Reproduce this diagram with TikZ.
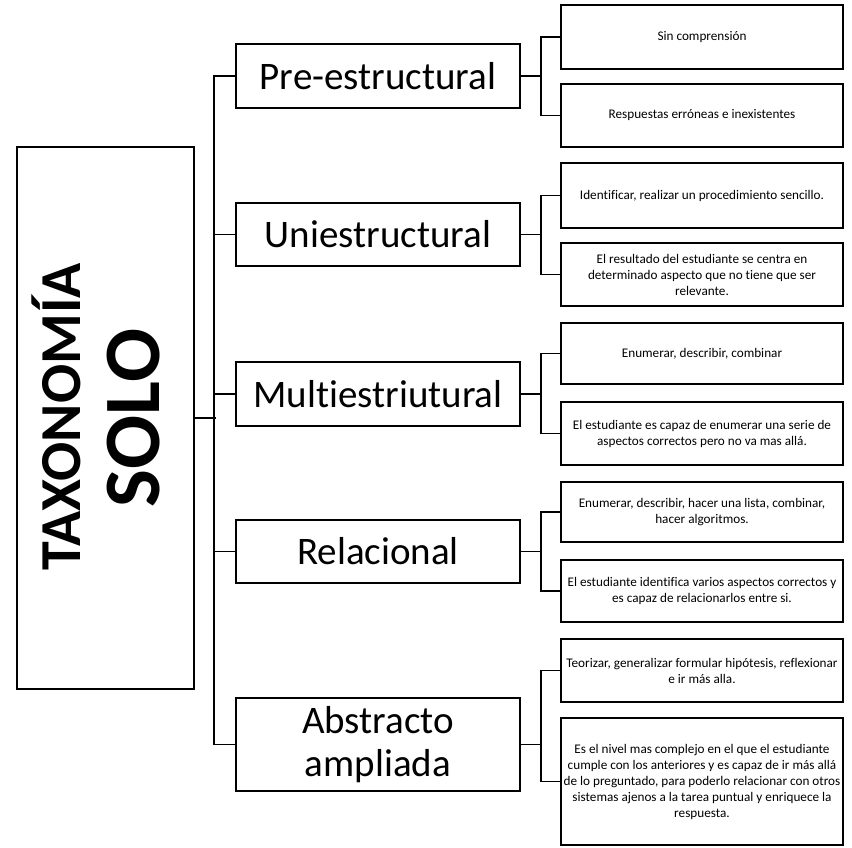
\documentclass[tikz,border=0pt]{standalone}
\usepackage{fontspec}
\setmainfont[Ligatures=CommonOff]{Carlito}
\begin{document}
\begin{tikzpicture}[x=1pt,y=-1pt,
  box/.style={draw=black,line width=1.6pt,inner sep=0pt,align=center},
  mid/.style={box,minimum width=284pt,font=\fontsize{39}{43}\selectfont},
  leaf/.style={box,minimum width=282pt,font=\fontsize{13.2}{16}\selectfont},
  conn/.style={line width=1.6pt}]
\useasboundingbox (0,0) rectangle (852,848);
\node[box,minimum width=177pt,minimum height=542pt] (main) at (105.5,418) {};
\node[rotate=90,font=\fontsize{58}{62}\selectfont\bfseries] (tax) at (56,417) {TAXONOMÍA};
\node[rotate=90,font=\fontsize{80}{84}\selectfont\bfseries] (solo) at (134,418) {SOLO};
\node[mid,minimum height=64pt] (m1) at (378,76) {Pre-estructural};
\node[mid,minimum height=63pt] (m2) at (378,234.5) {Uniestructural};
\node[mid,minimum height=64pt] (m3) at (378,394) {Multiestriutural};
\node[mid,minimum height=63pt] (m4) at (378,551.5) {Relacional};
\node[mid,minimum height=93pt] (m5) at (378,744.5) {Abstracto\\ampliada};
\node[leaf,minimum height=64pt] (r1) at (702,37) {Sin comprensión};
\node[leaf,minimum height=63pt] (r2) at (702,115.5) {Respuestas erróneas e inexistentes};
\node[leaf,minimum height=65pt] (r3) at (702,195.5) {Identificar, realizar un procedimiento sencillo.};
\node[leaf,minimum height=63pt] (r4) at (702,274.5) {El resultado del estudiante se centra en\\determinado aspecto que no tiene que ser\\relevante.};
\node[leaf,minimum height=61pt] (r5) at (702,353.5) {Enumerar, describir, combinar};
\node[leaf,minimum height=63pt] (r6) at (702,433.5) {El estudiante es capaz de enumerar una serie de\\aspectos correctos pero no va mas allá.};
\node[leaf,minimum height=60pt] (r7) at (702,512) {Enumerar, describir, hacer una lista, combinar,\\hacer algoritmos.};
\node[leaf,minimum height=62pt] (r8) at (702,591) {El estudiante identifica varios aspectos correctos y\\es capaz de relacionarlos entre si.};
\node[leaf,minimum height=63pt] (r9) at (702,670.5) {Teorizar, generalizar formular hipótesis, reflexionar\\e ir más alla.};
\node[leaf,minimum height=127pt] (r10) at (702,781.5) {Es el nivel mas complejo en el que el estudiante\\cumple con los anteriores y es capaz de ir más allá\\de lo preguntado, para poderlo relacionar con otros\\sistemas ajenos a la tarea puntual y enriquece la\\respuesta.};
% trunk
\draw[conn] (main.east) -- ++(21,0);
\draw[conn] (m1.west) -- ++(-21,0) |- (m5.west);
\foreach \m in {m2,m3,m4} \draw[conn] (\m.west) -- ++(-21,0);
% brackets
\foreach \m/\a/\b in {m1/r1/r2,m2/r3/r4,m3/r5/r6,m4/r7/r8,m5/r9/r10}{
  \draw[conn] (\m.east) -- ++(20,0) coordinate (b\m);
  \draw[conn] (\a.west) -| (b\m) |- (\b.west);
}
\end{tikzpicture}
\end{document}
